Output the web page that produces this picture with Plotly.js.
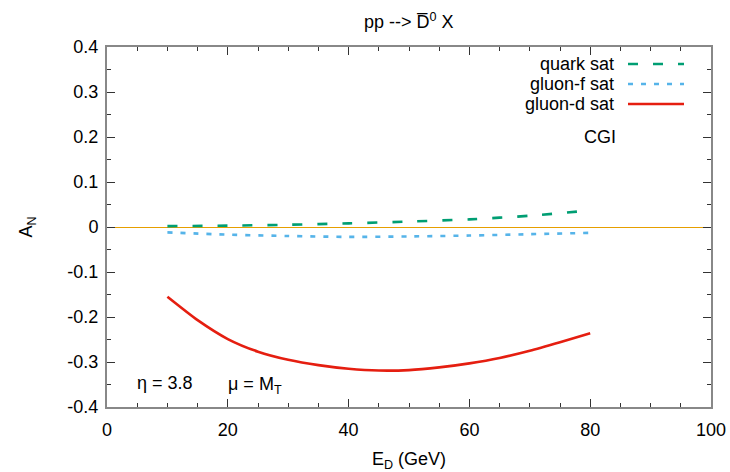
<!DOCTYPE html>
<html>
<head>
<meta charset="utf-8">
<script src="https://cdn.plot.ly/plotly-3.0.1.min.js"></script>
<style>html,body{margin:0;padding:0;background:#fff;}#chart{width:730px;height:472px;}</style>
</head>
<body>
<div id="chart"></div>
<script>
// Data
const energyQuark = [10, 20, 30, 40, 50, 60, 70, 80];
const quarkSat    = [0.002, 0.003, 0.005, 0.008, 0.012, 0.017, 0.025, 0.037];
const energyGluonF = [10, 20, 30, 40, 50, 60, 70, 80];
const gluonFSat    = [-0.012, -0.017, -0.020, -0.022, -0.021, -0.019, -0.016, -0.013];
const energyGluonD = [10, 15, 20, 25, 30, 35, 40, 45, 50, 55, 60, 65, 70, 75, 80];
const gluonDSat    = [-0.155, -0.207, -0.249, -0.277, -0.295, -0.307, -0.315, -0.319, -0.318, -0.312, -0.303, -0.291, -0.275, -0.256, -0.236];
const seriesNames = ["quark sat", "gluon-f sat", "gluon-d sat"];
const seriesColors = ["#009e73", "#56b4e9", "#e51e10"];
const seriesDash = ["10px,15px", "5px,8px", "solid"];
const xTickVals = [0, 20, 40, 60, 80, 100];
const yTickVals = [-0.4, -0.3, -0.2, -0.1, 0, 0.1, 0.2, 0.3, 0.4];
const yTickText = ["-0.4", "-0.3", "-0.2", "-0.1", "0", "0.1", "0.2", "0.3", "0.4"];

const font = "Liberation Sans, Arial, sans-serif";
const FS = 18;
const xs = [energyQuark, energyGluonF, energyGluonD];
const ys = [quarkSat, gluonFSat, gluonDSat];
const traces = xs.map((x, i) => ({
  x: x, y: ys[i], type: "scatter", mode: "lines", name: seriesNames[i],
  line: {color: seriesColors[i], width: 2.6, dash: seriesDash[i], shape: "spline", smoothing: 0.6},
  showlegend: false
}));

// Legend: text right-aligned, sample to the right (paper coords)
const W = 730, H = 472, ML = 107, MR = 19, MT = 47, MB = 65;
const PW = W - ML - MR, PH = H - MT - MB;
const px = v => (v - ML) / PW;
const py = v => (H - MB - v) / PH;
const legendY = [64, 84, 104];
const shapes = [];
const annotations = [];
seriesNames.forEach((n, i) => {
  annotations.push({xref: "paper", yref: "paper", x: px(616), y: py(legendY[i]),
    text: n, showarrow: false, xanchor: "right", yanchor: "middle", font: {family: font, size: FS, color: "#000"}});
  shapes.push({type: "line", xref: "paper", yref: "paper",
    x0: px(628), x1: px(684), y0: py(legendY[i]), y1: py(legendY[i]),
    line: {color: seriesColors[i], width: 2.6, dash: seriesDash[i]}});
});
annotations.push({xref: "paper", yref: "paper", x: px(600), y: py(137),
  text: "CGI", showarrow: false, xanchor: "center", yanchor: "middle", font: {family: font, size: FS, color: "#000"}});
annotations.push({xref: "paper", yref: "paper", x: px(135), y: py(383),
  text: "η = 3.8", showarrow: false, xanchor: "left", yanchor: "middle", font: {family: font, size: FS, color: "#000"}});
annotations.push({xref: "paper", yref: "paper", x: px(226), y: py(385),
  text: "μ = M<sub>T</sub>", showarrow: false, xanchor: "left", yanchor: "middle", font: {family: font, size: FS, color: "#000"}});

const layout = {
  width: W, height: H,
  margin: {l: ML, r: MR, t: MT, b: MB},
  paper_bgcolor: "#fff", plot_bgcolor: "#fff",
  font: {family: font, size: FS, color: "#000"},
  title: {text: "pp --> D\u0305<sup>0</sup> X", x: 0.56, xanchor: "center", y: 1 - 22 / H, yanchor: "middle", font: {family: font, size: FS}},
  xaxis: {
    range: [0, 100], tickvals: xTickVals, ticks: "inside", ticklen: 8, tickcolor: "#333", tickwidth: 1,
    showline: true, linecolor: "#888", linewidth: 2, mirror: "ticks", showgrid: false, zeroline: false,
    minor: {dtick: 5, ticks: "inside", ticklen: 4, tickcolor: "#333", tickwidth: 1, showgrid: false},
    title: {text: "E<sub>D</sub> (GeV)", font: {family: font, size: FS}, standoff: 14},
    tickfont: {family: font, size: FS}, ticklabelstandoff: 5
  },
  yaxis: {
    range: [-0.4, 0.4], tickvals: yTickVals, ticktext: yTickText, ticks: "inside", ticklen: 8, tickcolor: "#333", tickwidth: 1,
    showline: true, linecolor: "#888", linewidth: 2, mirror: "ticks", showgrid: false,
    zeroline: true, zerolinecolor: "#e69f00", zerolinewidth: 1,
    minor: {dtick: 0.05, ticks: "inside", ticklen: 4, tickcolor: "#333", tickwidth: 1, showgrid: false},
    title: {text: "A<sub>N</sub>", font: {family: font, size: FS}, standoff: 30},
    tickfont: {family: font, size: FS}, ticklabelstandoff: 3
  },
  shapes: shapes,
  annotations: annotations
};
Plotly.newPlot("chart", traces, layout, {displayModeBar: false, staticPlot: true});
</script>
</body>
</html>
